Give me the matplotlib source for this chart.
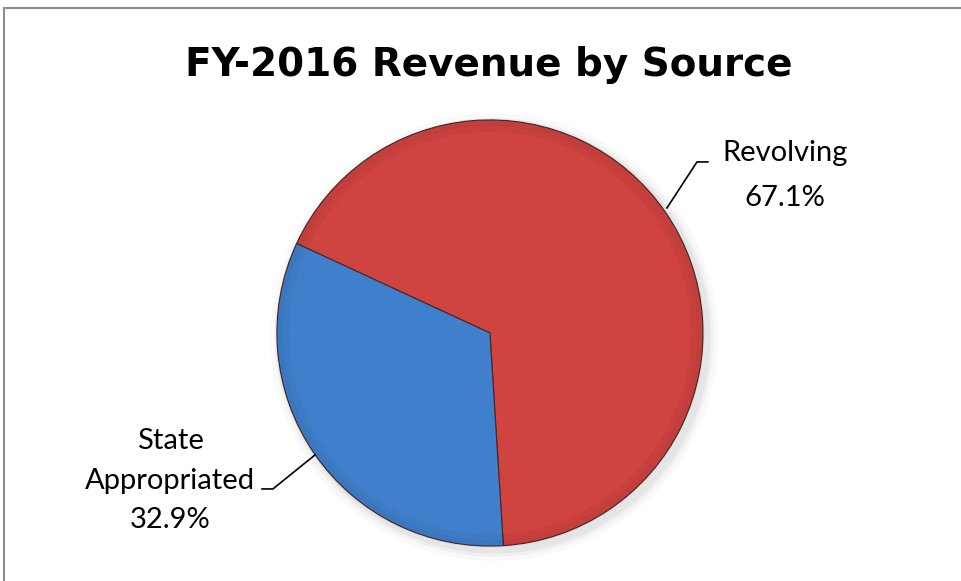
import matplotlib
matplotlib.use('Agg')
from matplotlib import pyplot as plt
from matplotlib.patches import Rectangle, Circle

# Datos del grafico
categorias = ['Revolving', 'State\nAppropriated']
valores = [67.1, 32.9]
colores = ['#CF4341', '#3F7FCB']
titulo = 'FY-2016 Revenue by Source'

fig = plt.figure(figsize=(9.62, 5.81), dpi=100)
ax = fig.add_axes([0, 0, 1, 1])

# Marco gris del grafico
fig.patches.append(Rectangle((4 / 962, -0.1), 1.2, 1 - 8 / 581 + 0.1,
                             transform=fig.transFigure, fill=False,
                             edgecolor='#8c8c8c', lw=1.5))

# Sombra suave alrededor del pastel
for r, a in [(1.05, 0.03), (1.03, 0.05), (1.015, 0.07)]:
    ax.add_patch(Circle((0.02, -0.02), r, color='#555555', alpha=a, lw=0))

wedges, _ = ax.pie(valores, colors=colores, startangle=-86.4, counterclock=True,
                   radius=1, center=(0, 0), frame=True,
                   wedgeprops=dict(edgecolor='#4a2624', linewidth=0.8))
ax.set_xlim(-2.300, 2.216)
ax.set_ylim(-1.164, 1.563)
ax.set_aspect('auto')
ax.axis('off')

# Sombreado interno (borde un poco mas oscuro)
for r, a in [(0.99, 0.06), (0.96, 0.03)]:
    ax.add_patch(Circle((0, 0), r, fill=False, edgecolor='black', lw=5, alpha=a))

ax.text(-0.005, 1.257, titulo, ha='center', va='center', fontsize=28,
        fontweight='bold', family=['Liberation Sans Narrow', 'DejaVu Sans'])

fuente = ['Lato', 'DejaVu Sans']
tam = 21

# Etiqueta Revolving
ax.text(1.385, 0.845, categorias[0], ha='center', va='center', fontsize=tam, family=fuente)
ax.text(1.385, 0.634, '%.1f%%' % valores[0], ha='center', va='center', fontsize=tam, family=fuente)
ax.plot([0.831, 0.972, 1.023], [0.587, 0.803, 0.803], color='black', lw=1.2)

# Etiqueta State Appropriated
lineas = categorias[1].split('\n') + ['%.1f%%' % valores[1]]
for i, t in enumerate(lineas):
    ax.text(-1.502, -0.507 - 0.186 * i, t, ha='center', va='center', fontsize=tam, family=fuente)
ax.plot([-0.822, -1.019, -1.070], [-0.573, -0.732, -0.732], color='black', lw=1.2)

fig.savefig('out.png', dpi=100)
